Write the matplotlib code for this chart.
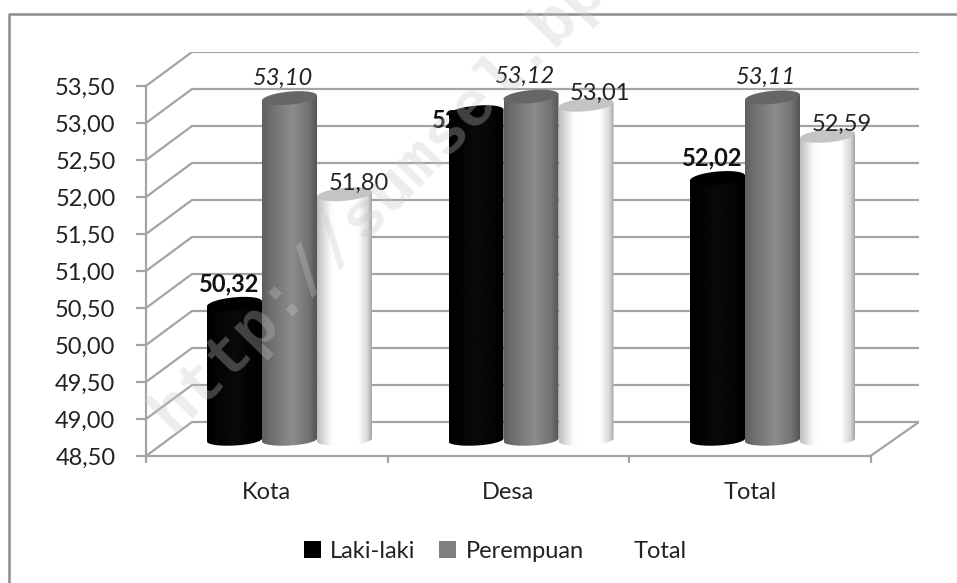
import matplotlib
matplotlib.use('Agg')
import matplotlib.pyplot as plt
import numpy as np
from matplotlib.patches import Patch, Polygon

plt.rcParams['font.family'] = ['Lato', 'DejaVu Sans']

categories = ['Kota', 'Desa', 'Total']
series_names = ['Laki-laki', 'Perempuan', 'Total']
laki = [50.32, 52.91, 52.02]
perempuan = [53.10, 53.12, 53.11]
total = [51.80, 53.01, 52.59]
y_ticks = [48.5, 49.0, 49.5, 50.0, 50.5, 51.0, 51.5, 52.0, 52.5, 53.0, 53.5]

W, H = 957, 583
dark = '#222222'
grid_c = '#a4a4a4'

fig = plt.figure(figsize=(W / 100, H / 100), dpi=100)
# pixel box of the plot: front axis at x=146, y=456, back wall ends at x=919, y=52
ax = fig.add_axes([146 / W, 1 - 456 / H, 773 / W, 404 / H])

px_x = 241.5   # pixels per category
px_y = 74.0    # pixels per unit of value
x_end = 773 / px_x
y_end = 48.5 + 404 / px_y

# depth of the fake 3D box
dx = 46 / px_x
dy = 34 / px_y

for t in y_ticks:
    ax.plot([0, dx, x_end], [t, t + dy, t + dy], color=grid_c, lw=1.6, zorder=1, solid_joinstyle='miter')
ax.plot([3, x_end], [48.5, 48.5 + dy], color=grid_c, lw=1.6, zorder=1)

for s in ['top', 'right']:
    ax.spines[s].set_visible(False)
ax.spines['left'].set_bounds(48.5, 53.5)
ax.spines['bottom'].set_bounds(0, 3)
for s in ['left', 'bottom']:
    ax.spines[s].set_color(grid_c)
    ax.spines[s].set_linewidth(1.6)

ax.set_yticks(y_ticks)
ax.set_yticklabels([f'{t:.2f}'.replace('.', ',') for t in y_ticks], fontsize=17, color=dark)
ax.tick_params(axis='y', length=7, width=1.6, color=grid_c, pad=15)
ax.set_xticks([0, 1, 2, 3])
ax.set_xticklabels([])
ax.tick_params(axis='x', length=5, width=1.6, color=grid_c)
ax.set_xticks([0.5, 1.5, 2.5], minor=True)
ax.set_xticklabels(categories, minor=True, fontsize=17, color=dark)
ax.tick_params(axis='x', which='minor', length=0, pad=19)


def shade(stops):
    pos, vals = zip(*stops)
    return np.interp(np.linspace(0, 1, 128), pos, vals).reshape(1, -1)


black_grad = shade([(0, 0), (0.5, 10), (1, 0)])
gray_grad = shade([(0, 95), (0.15, 110), (0.55, 140), (0.85, 115), (1, 85)])
white_grad = shade([(0, 190), (0.25, 250), (0.35, 255), (0.75, 255), (0.92, 215), (1, 165)])

bar_w = 55 / px_x
base = 48.5 + 16 / px_y      # centre of the bottom ellipse
lift = 17.5 / px_y           # bar tops sit a bit behind the front plane
a = bar_w / 2
b = 6.5 / px_y
tilt = 2.5 / px_y / a
th = np.linspace(0, 2 * np.pi, 81)


def ellipse_xy(cx, cy):
    xx = a * np.cos(th)
    return np.column_stack([cx + xx, cy + b * np.sin(th) + tilt * xx])


def cylinder(cx, val, grad, top_c, z):
    top = val + lift
    rect = ax.bar(cx, top - base, bottom=base, width=bar_w, color='none', linewidth=0, zorder=z)[0]
    # body: straight sides, flat tilted top hidden by the ellipse, round bottom
    xx = a * np.cos(th[41:80])
    bottom_edge = np.column_stack([cx + xx, base + 0.85 * b * np.sin(th[41:80]) + 0.6 * tilt * xx])
    left = rect.get_x()
    right = left + bar_w
    body = np.vstack([[left, top - tilt * a], [right, top + tilt * a], [right, base],
                      bottom_edge[::-1], [left, base]])
    clip = Polygon(body, closed=True, fc='none', ec='none', zorder=z)
    ax.add_patch(clip)
    im = ax.imshow(grad, cmap='gray', vmin=0, vmax=255, aspect='auto', interpolation='bilinear', zorder=z,
                   extent=[cx - a, cx + a, base - 10 / px_y, top + 10 / px_y])
    im.set_clip_path(clip)
    ax.add_patch(Polygon(ellipse_xy(cx, top), closed=True, fc=top_c, ec='none', zorder=z + 0.1))


centres = np.arange(3) + (289.5 - 146) / px_x
step = 55 / px_x
series = [laki, perempuan, total]
grads = [black_grad, gray_grad, white_grad]
tops = ['#000000', '#666666', '#c4c4c4']
for k in range(3):
    for i in range(3):
        cylinder(centres[i] + (k - 1) * step, series[k][i], grads[k], tops[k], 3 + k)

ax.set_xlim(0, x_end)
ax.set_ylim(48.5, y_end)

label_off = [(-5, 20), (-6, 20), (14, 11)]
for k in range(3):
    for i in range(3):
        off = label_off[k]
        z = 8
        if k == 0 and i == 1:
            # this one sits behind its own bar, only "52" shows
            off = (-14, -8)
            z = 2.5
        ax.annotate(f'{series[k][i]:.2f}'.replace('.', ','),
                    xy=(centres[i] + (k - 1) * step, series[k][i] + lift),
                    xytext=off, textcoords='offset pixels', ha='center', va='center',
                    fontsize=17, color='#111111' if k == 0 else dark, zorder=z,
                    fontweight='bold' if k == 0 else 'normal',
                    fontstyle='italic' if k == 1 else 'normal')

handles = [Patch(fc='#000000', ec='none'), Patch(fc='#808080', ec='none'), Patch(fc='#ffffff', ec='none')]
fig.legend(handles, series_names, ncol=3, loc='center',
           bbox_to_anchor=(495.5 / W, 1 - 551 / H), frameon=False, fontsize=17, labelcolor=dark,
           handlelength=0.72, handleheight=0.72, handletextpad=0.4, columnspacing=1.0)

# frame of the chart area, only top and left are inside the crop
fig.add_artist(plt.Line2D([9 / W, 9 / W, 1], [1 - 582 / H, 1 - 14 / H, 1 - 14 / H], color='#8c8c8c', lw=1.8))

fig.text(173 / W, 1 - 434 / H, 'http://sumsel.bps.go.id', family='Liberation Mono', fontweight='bold',
         fontsize=46.5, rotation=45.5, rotation_mode='anchor', ha='left', va='baseline',
         color='#c8c8c8', alpha=0.32, zorder=20)

fig.savefig('out.png', dpi=100)
